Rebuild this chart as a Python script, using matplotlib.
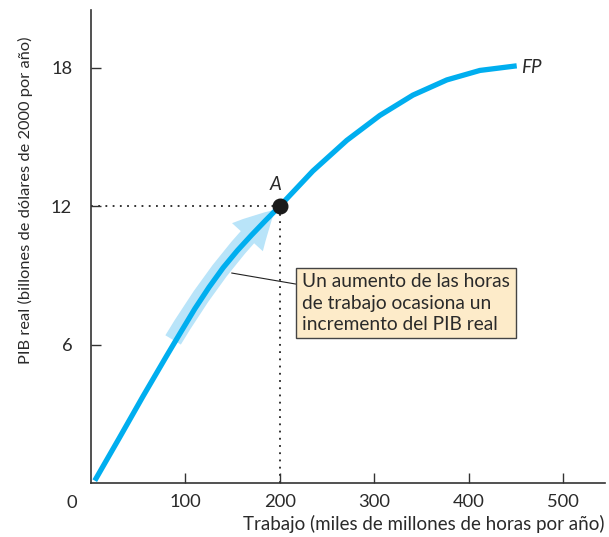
import matplotlib
matplotlib.use("Agg")
import matplotlib.pyplot as plt
from matplotlib.patches import FancyArrowPatch
from matplotlib.path import Path

# Data
labor = [4, 30, 55, 80, 95, 110, 125, 140, 155, 170, 185, 200, 235, 271, 306, 341, 377, 412, 451]
gdp = [0.1, 1.95, 3.75, 5.5, 6.53, 7.55, 8.48, 9.33, 10.07, 10.74, 11.38, 12.0, 13.52, 14.85, 15.93, 16.81, 17.47, 17.88, 18.08]
point_a = (200, 12)
xticks = [100, 200, 300, 400, 500]
yticks = [6, 12, 18]
arrow_x = [87, 141, 195]
arrow_y = [6.2, 9.88, 11.84]

plt.rcParams['font.family'] = ['Lato', 'DejaVu Sans']
TXT = '#2a2a2a'

fig = plt.figure(figsize=(6.09, 5.37), dpi=100)
ax = fig.add_axes([0.1494, 0.1006, 0.844, 0.8808])
ax.set_xlim(0, 544.5)
ax.set_ylim(0, 20.5)

for s in ['top', 'right']:
    ax.spines[s].set_visible(False)
for s in ['left', 'bottom']:
    ax.spines[s].set_color('#333333')
    ax.spines[s].set_linewidth(1.2)

ax.set_xticks(xticks)
ax.set_yticks(yticks)
ax.tick_params(direction='in', length=7, width=1, color='#333333',
               labelsize=13.2, labelcolor=TXT)
ax.tick_params(axis='x', pad=8.0)
ax.tick_params(axis='y', pad=13.5)

# light blue arrow along the curve
verts = list(zip(arrow_x, arrow_y))
path = Path(verts, [Path.MOVETO, Path.CURVE3, Path.CURVE3])
arr = FancyArrowPatch(path=path, arrowstyle='simple,head_width=1.5,head_length=1.4,tail_width=0.65',
                      mutation_scale=20, color='#b9e4f9', lw=0, zorder=2)
ax.add_patch(arr)

# dotted guides
ax.plot([0, point_a[0]], [point_a[1], point_a[1]], linestyle=(0, (1, 3)), color='#222222', lw=1.3, zorder=1)
ax.plot([point_a[0], point_a[0]], [0, point_a[1]], linestyle=(0, (1, 3)), color='#222222', lw=1.3, zorder=1)

# curve
ax.plot(labor, gdp, color='#00aeef', lw=3.8, solid_capstyle='butt', solid_joinstyle='round', zorder=3)
ax.plot([point_a[0]], [point_a[1]], 'o', color='#1a1a1a', ms=10.5, zorder=4)

ax.text(195, 12.92, 'A', style='italic', fontsize=13.5, color=TXT, ha='center', va='center')
ax.text(456, 18.0, 'FP', style='italic', fontsize=13.5, color=TXT, ha='left', va='center')

# annotation box with leader line
ax.annotate('Un aumento de las horas\nde trabajo ocasiona un\nincremento del PIB real',
            xy=(149, 9.1), xytext=(223.5, 7.8),
            fontsize=13.8, color=TXT, ha='left', va='center', linespacing=1.3,
            bbox=dict(boxstyle='square,pad=0.3', fc='#fdebc9', ec='#444444', lw=1),
            arrowprops=dict(arrowstyle='-', color='#222222', lw=0.8,
                            shrinkA=0, shrinkB=0), zorder=5)

ax.text(-20, -0.85, '0', fontsize=13.2, color=TXT, ha='center', va='center')

fig.text(0.993, 0.013, 'Trabajo (miles de millones de horas por año)', fontsize=13.5,
         color=TXT, ha='right', va='baseline')
fig.text(0.042, 0.628, 'PIB real (billones de dólares de 2000 por año)', fontsize=11.8,
         color=TXT, ha='center', va='center', rotation=90)

fig.savefig('out.png', dpi=100)
